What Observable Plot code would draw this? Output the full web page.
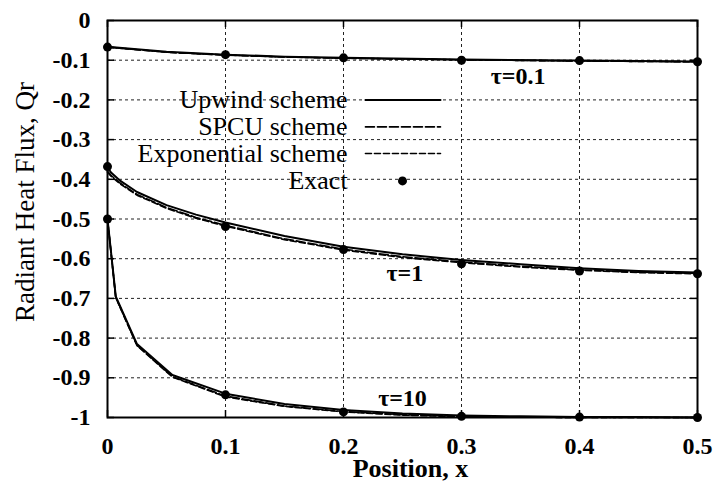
<!DOCTYPE html>
<html>
<head>
<meta charset="utf-8">
<script src="https://cdn.jsdelivr.net/npm/d3@7"></script>
<script src="https://cdn.jsdelivr.net/npm/@observablehq/plot@0.6"></script>
<style>
  html, body { margin: 0; padding: 0; background: white; }
  #chart svg, #chart svg text { font-family: "Liberation Serif", "Times New Roman", serif !important; }
</style>
</head>
<body>
<div id="chart"></div>
<script>
// ---- tick values ----
const xTicks = [0, 0.1, 0.2, 0.3, 0.4, 0.5];
const yTicks = [0, -0.1, -0.2, -0.3, -0.4, -0.5, -0.6, -0.7, -0.8, -0.9, -1];

// ---- tau = 0.1 ----
const xTau01 = [0, 0.05, 0.1, 0.15, 0.2, 0.3, 0.4, 0.5];
const upwindTau01 = [-0.066, -0.079, -0.086, -0.091, -0.094, -0.098, -0.101, -0.103];
const spcuTau01   = [-0.067, -0.080, -0.087, -0.092, -0.095, -0.099, -0.102, -0.104];
const expTau01    = [-0.067, -0.080, -0.087, -0.092, -0.095, -0.099, -0.102, -0.104];

// ---- tau = 1 ----
const xTau1 = [0, 0.003, 0.01, 0.025, 0.05, 0.075, 0.1, 0.15, 0.2, 0.25, 0.3, 0.35, 0.4, 0.45, 0.5];
const upwindTau1 = [-0.370, -0.383, -0.402, -0.432, -0.465, -0.489, -0.509, -0.543, -0.570, -0.589, -0.603, -0.614, -0.624, -0.631, -0.635];
const spcuTau1   = [-0.380, -0.390, -0.408, -0.438, -0.471, -0.496, -0.516, -0.550, -0.576, -0.595, -0.608, -0.619, -0.628, -0.634, -0.637];
const expTau1    = [-0.382, -0.392, -0.410, -0.440, -0.473, -0.498, -0.518, -0.552, -0.578, -0.597, -0.610, -0.621, -0.629, -0.635, -0.638];

// ---- tau = 10 ----
const xTau10 = [0, 0.007, 0.025, 0.055, 0.1, 0.15, 0.2, 0.25, 0.3, 0.35, 0.4, 0.45, 0.5];
const upwindTau10 = [-0.5, -0.695, -0.815, -0.893, -0.940, -0.966, -0.981, -0.990, -0.995, -0.997, -0.999, -0.999, -1.0];
const spcuTau10   = [-0.5, -0.697, -0.818, -0.897, -0.946, -0.971, -0.985, -0.993, -0.997, -0.999, -1.0, -1.0, -1.0];
const expTau10    = [-0.5, -0.698, -0.819, -0.898, -0.948, -0.972, -0.986, -0.994, -0.998, -0.999, -1.0, -1.0, -1.0];

// ---- exact solution points ----
const xExact = [0, 0.1, 0.2, 0.3, 0.4, 0.5];
const exactTau01 = [-0.067, -0.086, -0.094, -0.100, -0.101, -0.104];
const exactTau1  = [-0.368, -0.519, -0.577, -0.613, -0.631, -0.638];
const exactTau10 = [-0.5, -0.943, -0.986, -0.997, -0.999, -1.0];

// ---- curve labels ----
const tauLabels = ["τ=0.1", "τ=1", "τ=10"];
const tauLabelX = [0.348, 0.252, 0.250];
const tauLabelY = [-0.140, -0.636, -0.952];

// ---- legend ----
const legendLabels = ["Upwind scheme", "SPCU scheme", "Exponential scheme", "Exact"];
const legendY = [-0.200, -0.268, -0.335, -0.404];
const legendTextX = 0.2035;
const legendLineX = [0.2186, 0.2822];
const legendDotX = 0.2500;

// ---- build tables ----
const schemes = [
  {name: "Upwind", dash: null, width: 2},
  {name: "SPCU", dash: "9,3", width: 1.6},
  {name: "Exponential", dash: "6,3", width: 1.6}
];
const curves = [
  {tau: "0.1", xs: xTau01, ys: [upwindTau01, spcuTau01, expTau01]},
  {tau: "1", xs: xTau1, ys: [upwindTau1, spcuTau1, expTau1]},
  {tau: "10", xs: xTau10, ys: [upwindTau10, spcuTau10, expTau10]}
];
const lineRows = {Upwind: [], SPCU: [], Exponential: []};
for (const c of curves) {
  schemes.forEach((s, i) => {
    c.xs.forEach((x, j) => lineRows[s.name].push({x, y: c.ys[i][j], tau: c.tau}));
  });
}
const exactRows = [];
[[exactTau01, "0.1"], [exactTau1, "1"], [exactTau10, "10"]].forEach(([ys, tau]) => {
  xExact.forEach((x, j) => exactRows.push({x, y: ys[j], tau}));
});
const labelRows = tauLabels.map((t, i) => ({t, x: tauLabelX[i], y: tauLabelY[i]}));
const legendTextRows = legendLabels.map((t, i) => ({t, x: legendTextX, y: legendY[i]}));
const legendLineRows = [];
schemes.forEach((s, i) => {
  legendLineX.forEach(x => legendLineRows.push({x, y: legendY[i], scheme: s.name}));
});

const fmt = d => String(+d.toFixed(1));
const innerW = 716 - 107 - 19;
const innerH = 488 - 20 - 71;
const tickLen = 7;

const lineMarks = schemes.map(s => Plot.line(lineRows[s.name], {
  x: "x", y: "y", z: "tau", stroke: "black", strokeWidth: s.width,
  strokeDasharray: s.dash, strokeLinejoin: "round"
}));
const legendLineMarks = schemes.map(s => Plot.line(legendLineRows.filter(d => d.scheme === s.name), {
  x: "x", y: "y", stroke: "black", strokeWidth: s.width, strokeDasharray: s.dash
}));

const chart = Plot.plot({
  width: 716,
  height: 488,
  marginLeft: 107,
  marginRight: 19,
  marginTop: 20,
  marginBottom: 71,
  style: {
    fontFamily: "Liberation Serif",
    fontSize: "24px",
    fontWeight: "bold",
    background: "white",
    color: "black"
  },
  x: {domain: [0, 0.5], ticks: xTicks, tickFormat: fmt, tickSize: 0, tickPadding: 19, label: null},
  y: {domain: [-1, 0], ticks: yTicks, tickFormat: fmt, tickSize: 0, tickPadding: 17, label: null},
  marks: [
    // grid
    Plot.ruleX(xTicks.slice(1, -1), {stroke: "#222", strokeWidth: 1, strokeDasharray: "3,3"}),
    Plot.ruleY(yTicks.slice(1, -1), {stroke: "#222", strokeWidth: 1, strokeDasharray: "3,3"}),
    // inward ticks
    Plot.tickY(yTicks, {y: d => d, insetRight: innerW - tickLen, stroke: "black", strokeWidth: 1.5}),
    Plot.tickY(yTicks, {y: d => d, insetLeft: innerW - tickLen, stroke: "black", strokeWidth: 1.5}),
    Plot.tickX(xTicks, {x: d => d, insetBottom: innerH - tickLen, stroke: "black", strokeWidth: 1.5}),
    Plot.tickX(xTicks, {x: d => d, insetTop: innerH - tickLen, stroke: "black", strokeWidth: 1.5}),
    // curves
    ...lineMarks,
    Plot.dot(exactRows, {x: "x", y: "y", r: 4.5, fill: "black", stroke: "none"}),
    Plot.frame({stroke: "black", strokeWidth: 2}),
    // curve labels
    Plot.text(labelRows, {x: "x", y: "y", text: "t", fontSize: 24, fontWeight: "bold"}),
    // legend
    Plot.text(legendTextRows, {x: "x", y: "y", text: "t", textAnchor: "end", fontSize: 26, fontWeight: "normal"}),
    ...legendLineMarks,
    Plot.dot([{x: legendDotX, y: legendY[3]}], {x: "x", y: "y", r: 4.5, fill: "black", stroke: "none"}),
    // axis titles
    Plot.text(["Position, x"], {frameAnchor: "bottom", textAnchor: "middle", lineAnchor: "middle", dy: 51, dx: 8, text: d => d, fontSize: 26, fontWeight: "bold"}),
    Plot.text(["Radiant Heat Flux, Qr"], {frameAnchor: "left", textAnchor: "middle", lineAnchor: "middle", rotate: -90, dx: -82, dy: -17, text: d => d, fontSize: 27, fontWeight: "normal"})
  ]
});
document.getElementById("chart").appendChild(chart);
</script>
</body>
</html>
